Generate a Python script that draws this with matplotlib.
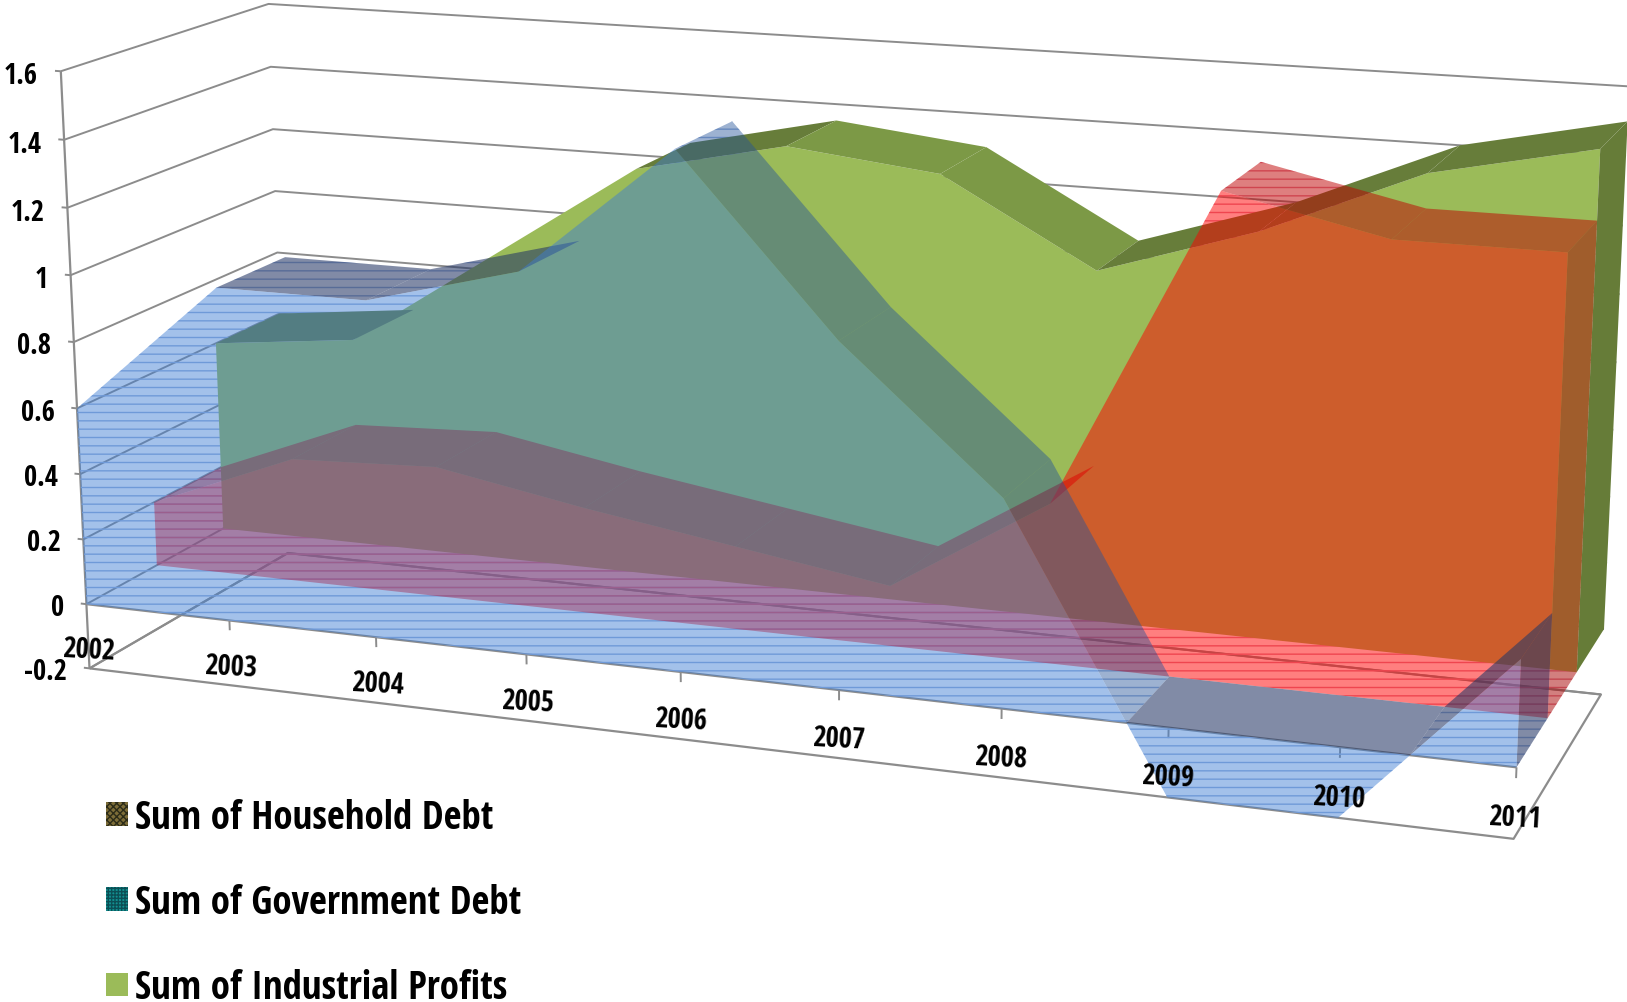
import numpy as np
import matplotlib
matplotlib.use('Agg')
import matplotlib.pyplot as plt
from matplotlib.patches import Patch
from mpl_toolkits.mplot3d.art3d import Poly3DCollection, Line3DCollection

W, H = 1627, 1003

years = ['2002', '2003', '2004', '2005', '2006', '2007', '2008', '2009', '2010', '2011']
value_ticks = [-0.2, 0, 0.2, 0.4, 0.6, 0.8, 1, 1.2, 1.4, 1.6]

# series, front to back
blue_values = [0.6, 1.0, 1.0, 1.12, 1.5, 1.0, 0.6, -0.2, -0.2, 0.3]
red_values = [0.2, 0.38, 0.4, 0.32, 0.25, 0.18, 0.47, 1.4, 1.3, 1.3]
green_values = [0.6, 0.65, 0.95, 1.25, 1.35, 1.3, 1.05, 1.2, 1.4, 1.5]

legend_labels = ['Sum of Household Debt', 'Sum of Government Debt', 'Sum of Industrial Profits']

FONT = ['Open Sans Condensed', 'Roboto Condensed', 'DejaVu Sans']
GRID = '#8c8c8c'

# Camera: world is (category index, depth 0..1, value), solved from where
# the corners of the chart box land on the canvas
box_world = [(0, 0, 1.6), (0, 0, 0), (0, 0, -.2), (0, 1, 1.6), (0, 1, .8), (0, 1, -.2),
             (1, 0, 0), (2, 0, 0), (3, 0, 0), (4, 0, 0), (5, 0, 0), (6, 0, 0), (7, 0, 0), (8, 0, 0), (9, 0, 0),
             (9, 0, -.2), (9, 1, -.2), (9, 1, 1.6), (9, 2/3, 0), (9, 1, 0), (0, 2/3, 0), (0, 1/3, 0), (9, 1/3, 0)]
box_canvas = [(59, 73), (87, 605), (90, 669), (270, 4), (278, 253), (287, 554),
              (230, 620), (377, 638), (526, 656), (681, 673), (838, 692), (1001, 711), (1168, 729), (1340, 749), (1516, 768),
              (1515, 840), (1600, 696), (1629, 88), (1578, 671), (1604, 632), (221, 531), (158, 566), (1548, 716)]


def solve_camera(world, canvas):
    rows, rhs = [], []
    for (x, y, z), (u, v) in zip(world, canvas):
        rows.append([x, y, z, 1, 0, 0, 0, 0, -u*x, -u*y, -u*z])
        rhs.append(u)
        rows.append([0, 0, 0, 0, x, y, z, 1, -v*x, -v*y, -v*z])
        rhs.append(v)
    p = np.linalg.lstsq(np.array(rows, float), np.array(rhs, float), rcond=None)[0]
    return np.array([p[:4], p[4:8], [0, 1, 0, 0], [p[8], p[9], p[10], 1]])


M = solve_camera(box_world, box_canvas)


def project(pt):
    q = M @ np.array([pt[0], pt[1], pt[2], 1])
    return q[0] / q[3], q[1] / q[3]


def faces_viewer(quad):
    # shoelace on canvas coords, y grows downward
    xy = [project(p) for p in quad]
    area = sum(xy[i][0]*xy[(i+1) % 4][1] - xy[(i+1) % 4][0]*xy[i][1] for i in range(4))
    return area < 0


fig = plt.figure(figsize=(W/100, H/100), dpi=100)
ax = fig.add_axes([0, 0, 1, 1], projection='3d', computed_zorder=False)
ax.apply_aspect = lambda position=None: None
ax.get_proj = lambda: M
ax.set_axis_off()
ax.set_autoscale_on(False)


def face(verts, color, zorder, hatch=None):
    poly = Poly3DCollection([verts], facecolors=[color], edgecolors='none', linewidths=0, zorder=zorder)
    if hatch:
        poly.set_hatch(hatch[0])
        poly.set_edgecolor(hatch[1])
    poly.set_clip_on(False)
    ax.add_collection3d(poly)


def rule(xs, ys, zs, lw=1.4):
    seg = Line3DCollection([list(zip(xs, ys, zs))], colors=GRID, linewidths=lw, zorder=1)
    seg.set_clip_on(False)
    ax.add_collection3d(seg)


def top_quads(values, y0, y1):
    # top surface per segment, only the part above zero and facing the viewer
    quads = []
    for i in range(len(values) - 1):
        a, b = values[i], values[i+1]
        if a < 0 and b < 0:
            continue
        xa, xb = i, i + 1
        if a < 0:
            xa = i + a / (a - b)
            a = 0
        if b < 0:
            xb = i + a / (a - b)
            b = 0
        quad = [(xa, y0, a), (xb, y0, b), (xb, y1, b), (xa, y1, a)]
        if faces_viewer(quad):
            quads.append((quad, values[i+1] - values[i]))
    return quads


def front_verts(values, y):
    pts = [(i, y, v) for i, v in enumerate(values)]
    return pts + [(len(values) - 1, y, 0), (0, y, 0)]


def end_verts(values, y0, y1):
    x, v = len(values) - 1, values[-1]
    return [(x, y0, 0), (x, y1, 0), (x, y1, v), (x, y0, v)]


def zero_cap(values, y0, y1):
    # where the slab dips under zero the base plane shows
    neg = [i for i, v in enumerate(values) if v < 0]
    i0, i1 = neg[0], neg[-1]
    xa = i0 - 1 + values[i0-1] / (values[i0-1] - values[i0])
    xb = i1 + values[i1] / (values[i1] - values[i1+1])
    return [(xa, y0, 0), (xb, y0, 0), (xb, y1, 0), (xa, y1, 0)]


# walls and floor
n = len(years) - 1
for v in value_ticks:
    rule([0, 0, n], [0, 1, 1], [v, v, v])
    rule([-0.04, 0], [0, 0], [v, v])
rule([0, 0], [0, 0], [-0.2, 1.6], 1.6)
rule([0, n, n, 0, 0], [0, 0, 1, 1, 0], [-0.2]*5, 1.6)
rule([0, n], [0, 0], [0, 0], 1.6)
for i in range(1, n + 1):
    rule([i, i], [0, 0], [0, -0.03])

# line pattern sits under the green slab, so it only shows over the white
blue_lines = '#9db4dc'
red_lines = '#e08ca0'
for verts in [front_verts(blue_values, 0), end_verts(blue_values, 0, 1/3)] + [q for q, _ in top_quads(blue_values, 0, 1/3)]:
    face(verts, (1, 1, 1, 0), 2, hatch=('--', blue_lines))
for verts in [front_verts(red_values, 1/3), end_verts(red_values, 1/3, 2/3)] + [q for q, _ in top_quads(red_values, 1/3, 2/3)]:
    face(verts, (1, 1, 1, 0), 2, hatch=('--', red_lines))

# green slab, opaque
face(front_verts(green_values, 2/3), '#9bbb59', 3)
for quad, slope in top_quads(green_values, 2/3, 1):
    face(quad, '#677d3a' if slope > 0 else '#7c9946', 3.1)
face(end_verts(green_values, 2/3, 1), '#667c38', 3.1)

# red slab
for quad, slope in top_quads(red_values, 1/3, 2/3):
    face(quad, (0.75, 0, 0, 0.5), 4)
face(end_verts(red_values, 1/3, 2/3), (0.65, 0, 0, 0.5), 4)
face(front_verts(red_values, 1/3), (1, 0, 0, 0.5), 4.1)

# blue slab: steep falling surfaces catch more light than the flat ones
blue_dark = (0.15, 0.22, 0.4, 0.58)
blue_lit = (0.15, 0.33, 0.6, 0.45)
for quad, slope in top_quads(blue_values, 0, 1/3):
    face(quad, blue_lit if slope < -0.2 else blue_dark, 5)
face(zero_cap(blue_values, 0, 1/3), blue_dark, 5)
face(end_verts(blue_values, 0, 1/3), blue_dark, 5)
face(front_verts(blue_values, 0), (0.24, 0.49, 0.83, 0.47), 5.1)

# labels
for i, year in enumerate(years):
    x, y = project((i, 0, -0.142))
    ax.text2D(x, y, year, transform=ax.transData, ha='center', va='center', family=FONT, weight='bold',
              fontsize=20.5, rotation=-3, zorder=10)
for v in value_ticks:
    x, y = project((-0.16, 0, v - 0.018))
    ax.text2D(x, y, f'{v:g}', transform=ax.transData, ha='right', va='center', family=FONT, weight='bold',
              fontsize=20.5, zorder=10)

handles = [Patch(facecolor='#7d6d38', edgecolor='#2c2c18', hatch='xxxxx', lw=0),
           Patch(facecolor='#129090', edgecolor='#0b4f55', hatch='+++++', lw=0),
           Patch(facecolor='#9bbb59', lw=0)]
fig.legend(handles, legend_labels, loc='upper left', bbox_to_anchor=(0.065, 0.2035), frameon=False,
           prop={'family': FONT, 'weight': 'bold', 'size': 28}, labelspacing=1.16,
           handlelength=0.56, handleheight=0.56, handletextpad=0.2, borderpad=0, borderaxespad=0)

# view box in canvas pixels
ax.viewLim.intervalx = (0, W)
ax.viewLim.intervaly = (H, 0)

fig.savefig('out.png', dpi=100)
